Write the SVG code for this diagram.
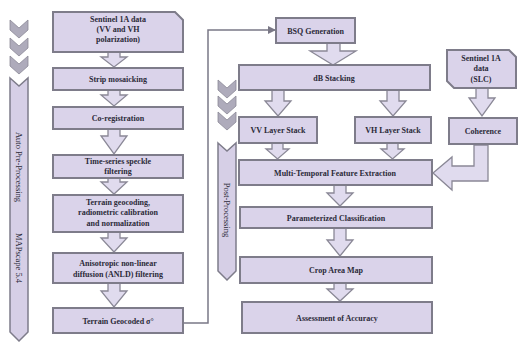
<svg xmlns="http://www.w3.org/2000/svg" width="520" height="349" viewBox="0 0 520 349">
<defs>
<style>
.box{fill:#dad3ea;stroke:#7e7c8a;stroke-width:2}
.arr{fill:#e0dbee;stroke:#8a8896;stroke-width:1.3}
.chev{fill:#aeabbb;stroke:#8a8896;stroke-width:0.8}
.ban{fill:#d6cfe6;stroke:#7e7c8a;stroke-width:1.5}
.t{font-family:"Liberation Serif",serif;font-weight:bold;font-size:8px;fill:#2b2a38;text-anchor:middle}
.bt{font-family:"Liberation Serif",serif;font-size:8.5px;fill:#2b2a38;text-anchor:middle}
.con{fill:none;stroke:#7a7886;stroke-width:1.5}
</style>
<marker id="ah" markerWidth="8" markerHeight="8" refX="7" refY="4" orient="auto" markerUnits="userSpaceOnUse">
<path d="M0,0 L8,4 L0,8 z" fill="#7a7886"/>
</marker>
</defs>
<rect width="520" height="349" fill="#ffffff"/>

<g id="banner-pre">
<polygon class="chev" points="10,20 19,28 28,20 28,30 19,38 10,30"/>
<polygon class="chev" points="10,38 19,46 28,38 28,48 19,56 10,48"/>
<polygon class="chev" points="10,56 19,64 28,56 28,66 19,74 10,66"/>
<polygon class="ban" points="10,78 19,86 28,78 28,332 19,341 10,332"/>
<text class="bt" transform="translate(16,167) rotate(90)">Auto Pre-Processing</text>
<text class="bt" transform="translate(16,258) rotate(90)">MAPscape 5.4</text>
</g>

<g id="banner-post">
<polygon class="chev" points="218,80 227,88 236,80 236,90 227,98 218,90"/>
<polygon class="chev" points="218,96 227,104 236,96 236,106 227,114 218,106"/>
<polygon class="chev" points="218,112 227,120 236,112 236,122 227,130 218,122"/>
<polygon class="ban" points="218,143 227,151 236,143 236,271 227,280 218,271"/>
<text class="bt" transform="translate(224,210) rotate(90)">Post-Processing</text>
</g>

<g id="connectors">
<polyline class="con" points="183,323 208,323 208,30 275,30" marker-end="url(#ah)"/>
<polygon class="arr" points="108,52 120,52 120,57 127,57 114,67 101,57 108,57"/>
<polygon class="arr" points="108,90 120,90 120,95 127,95 114,106 101,95 108,95"/>
<polygon class="arr" points="108,129 120,129 120,136 127,136 114,154 101,136 108,136"/>
<polygon class="arr" points="108,178 120,178 120,182 127,182 114,194 101,182 108,182"/>
<polygon class="arr" points="108,232 120,232 120,238 127,238 114,252 101,238 108,238"/>
<polygon class="arr" points="108,283 120,283 120,291 127,291 114,307 101,291 108,291"/>
<polygon class="arr" points="327,43 340,43 340,51 356,51 333,65 310,51 327,51"/>
<polygon class="arr" points="272,90 284,90 284,101 291,101 278,116 265,101 272,101"/>
<polygon class="arr" points="387,90 399,90 399,101 406,101 393,116 380,101 387,101"/>
<polygon class="arr" points="476,88 488,88 488,98 495,98 482,116 469,98 476,98"/>
<polygon class="arr" points="272,143 283,143 283,149 289,149 277.5,159 266,149 272,149"/>
<polygon class="arr" points="387,143 398,143 398,149 404,149 392.5,159 381,149 387,149"/>
<polygon class="arr" points="474,145 488,145 488,181 452,181 452,190 433,173 452,157 452,166 474,166"/>
<polygon class="arr" points="334,185 346,185 346,193 353,193 340,206 327,193 334,193"/>
<polygon class="arr" points="334,228 346,228 346,240 353,240 340,256 327,240 334,240"/>
<polygon class="arr" points="334,283 346,283 346,289 353,289 340,301 327,289 334,289"/>
</g>

<g id="n-sentinel-vvvh">
<polygon class="box" points="53,12 175,12 183,20 183,52 53,52"/>
<text class="t" x="118" y="22">Sentinel 1A data</text>
<text class="t" x="118" y="32">(VV and VH</text>
<text class="t" x="118" y="42">polarization)</text>
</g>
<g id="n-strip">
<rect class="box" x="53" y="68" width="130" height="22"/>
<text class="t" x="118" y="82">Strip mosaicking</text>
</g>
<g id="n-coreg">
<rect class="box" x="53" y="107" width="130" height="22"/>
<text class="t" x="118" y="121">Co-registration</text>
</g>
<g id="n-speckle">
<rect class="box" x="53" y="155" width="130" height="23"/>
<text class="t" x="118" y="164">Time-series speckle</text>
<text class="t" x="118" y="174">filtering</text>
</g>
<g id="n-terrain">
<rect class="box" x="53" y="195" width="130" height="37"/>
<text class="t" x="118" y="205">Terrain geocoding,</text>
<text class="t" x="118" y="215">radiometric calibration</text>
<text class="t" x="118" y="226">and normalization</text>
</g>
<g id="n-anld">
<rect class="box" x="53" y="253" width="130" height="30"/>
<text class="t" x="118" y="266">Anisotropic non-linear</text>
<text class="t" x="118" y="277">diffusion (ANLD) filtering</text>
</g>
<g id="n-geocoded">
<rect class="box" x="53" y="308" width="130" height="25"/>
<text class="t" x="118" y="324">Terrain Geocoded σ°</text>
</g>

<g id="n-bsq">
<rect class="box" x="276" y="18" width="79" height="25"/>
<text class="t" x="315.5" y="34">BSQ Generation</text>
</g>
<g id="n-db">
<rect class="box" x="239" y="65" width="191" height="25"/>
<text class="t" x="334" y="81">dB Stacking</text>
</g>
<g id="n-slc">
<polygon class="box" points="447,50 509,50 516,57 516,88 454,88 447,81"/>
<text class="t" x="481" y="61">Sentinel 1A</text>
<text class="t" x="481" y="71">data</text>
<text class="t" x="481" y="82">(SLC)</text>
</g>
<g id="n-vv">
<rect class="box" x="239" y="117" width="78" height="26"/>
<text class="t" x="278" y="133">VV Layer Stack</text>
</g>
<g id="n-vh">
<rect class="box" x="355" y="117" width="76" height="26"/>
<text class="t" x="393" y="133">VH Layer Stack</text>
</g>
<g id="n-coherence">
<rect class="box" x="449" y="118" width="68" height="26"/>
<text class="t" x="483" y="134">Coherence</text>
</g>
<g id="n-mtfe">
<rect class="box" x="239" y="160" width="193" height="25"/>
<text class="t" x="335" y="176">Multi-Temporal Feature Extraction</text>
</g>
<g id="n-param">
<rect class="box" x="240" y="207" width="192" height="21"/>
<text class="t" x="336" y="221">Parameterized Classification</text>
</g>
<g id="n-crop">
<rect class="box" x="240" y="257" width="192" height="26"/>
<text class="t" x="336" y="273">Crop Area Map</text>
</g>
<g id="n-assess">
<rect class="box" x="242" y="302" width="190" height="31"/>
<text class="t" x="337" y="321">Assessment of Accuracy</text>
</g>
</svg>
